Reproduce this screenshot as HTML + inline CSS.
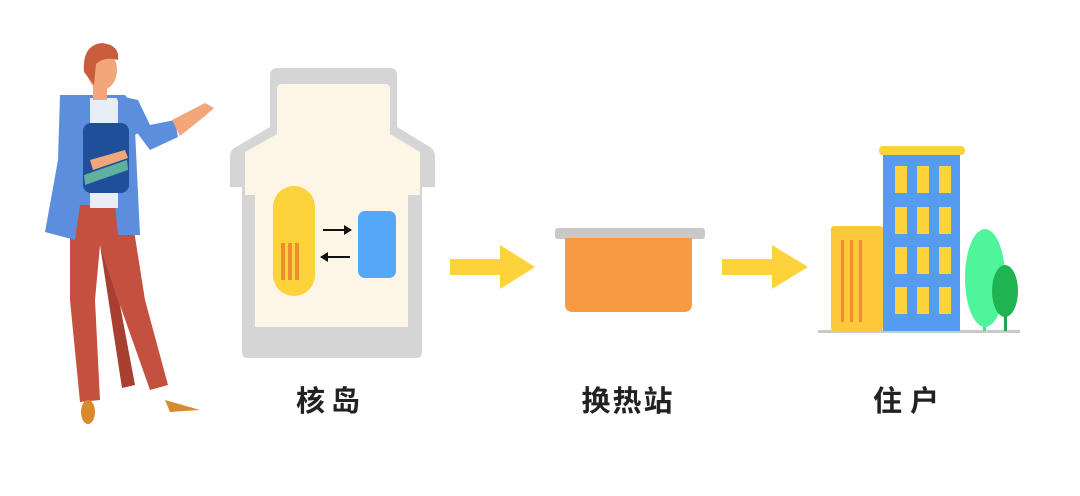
<!DOCTYPE html>
<html><head><meta charset="utf-8"><style>
html,body{margin:0;padding:0;background:#fff;}
svg{display:block}
text{font-family:"Liberation Sans","Noto Sans CJK SC",sans-serif;font-weight:bold;fill:#222}
</style></head><body>
<svg width="1080" height="496" viewBox="0 0 1080 496" xmlns="http://www.w3.org/2000/svg">
<rect width="1080" height="496" fill="#fff"/>
<!-- person -->
<g>
<path d="M70 205 L130 205 L145 300 L168 385 L150 390 L120 305 L100 245 L95 300 L100 400 L80 402 L70 300 Z" fill="#c4503f"/>
<path d="M100 245 L120 305 L135 385 L122 388 Z" fill="#a83f30"/>
<ellipse cx="88" cy="412" rx="7" ry="12" fill="#d88a2c"/>
<path d="M165 400 L200 410 L170 412 Z" fill="#d88a2c"/>
<path d="M60 95 L125 95 L150 125 L175 120 L178 137 L150 150 L135 130 L140 235 L118 235 L115 205 L80 205 L75 240 L45 232 L58 160 Z" fill="#5b8fde"/>
<rect x="90" y="98" width="28" height="110" fill="#e8eef8"/>
<path d="M115 95 L138 100 L150 125 L135 135 Z" fill="#5b8fde"/>
<path d="M172 120 L205 103 L214 108 L205 116 L180 136 Z" fill="#f3a67a"/>
<rect x="83" y="123" width="46" height="70" rx="8" fill="#1f4f99"/>
<path d="M84 175 L127 160 L128 170 L85 185 Z" fill="#5fb0a0"/>
<path d="M90 160 L125 150 L128 158 L93 170 Z" fill="#f3a67a"/>
<rect x="93" y="85" width="14" height="15" fill="#f3a67a"/>
<ellipse cx="102" cy="70" rx="15" ry="20" fill="#f3a67a"/>
<path d="M84 72 Q82 45 102 43 Q120 45 118 60 Q105 56 96 64 L94 85 Z" fill="#c85d3e"/>
</g>
<!-- nuclear island -->
<path d="M278 68 L390 68 Q397 68 397 75 L397 127 L430 147 Q435 150 435 157 L435 187 L422 187 L422 352 Q422 358 416 358 L248 358 Q242 358 242 352 L242 187 L230 187 L230 157 Q230 150 236 147 L270 127 L270 75 Q270 68 278 68 Z" fill="#d5d5d5"/>
<path d="M282 84 L385 84 Q390 84 390 89 L390 134 L420 152 L420 195 L408 195 L408 327 L255 327 L255 195 L245 195 L245 152 L277 134 L277 89 Q277 84 282 84 Z" fill="#fdf6e6"/>
<rect x="273" y="186" width="42" height="110" rx="21" fill="#fdd23a"/>
<rect x="281" y="243" width="4" height="37" fill="#f28a2e"/>
<rect x="288" y="243" width="4" height="37" fill="#f28a2e"/>
<rect x="295" y="243" width="4" height="37" fill="#f28a2e"/>
<rect x="358" y="211" width="38" height="67" rx="7" fill="#55a8f8"/>
<line x1="323" y1="230" x2="346" y2="230" stroke="#111" stroke-width="2"/>
<path d="M352 230 L344 225 L344 235 Z" fill="#111"/>
<line x1="327" y1="257" x2="350" y2="257" stroke="#111" stroke-width="2"/>
<path d="M320 257 L328 252 L328 262 Z" fill="#111"/>
<!-- arrows -->
<path d="M450 259 L500 259 L500 245 L535 267 L500 289 L500 275 L450 275 Z" fill="#fdd23a"/>
<path d="M722 259 L772 259 L772 245 L808 267 L772 289 L772 275 L722 275 Z" fill="#fdd23a"/>
<!-- heat station -->
<rect x="555" y="228" width="150" height="11" rx="3" fill="#c9c9c9"/>
<path d="M565 238 L692 238 L692 304 Q692 312 684 312 L573 312 Q565 312 565 304 Z" fill="#f89a42"/>
<!-- residence -->
<rect x="818" y="330" width="202" height="3" fill="#c9c9c9"/>
<rect x="883" y="153" width="77" height="178" fill="#559cf0"/>
<rect x="879" y="146" width="86" height="9" rx="4" fill="#fdd23a"/>
<g fill="#fdd23a">
<rect x="895" y="166" width="12" height="27"/><rect x="917" y="166" width="12" height="27"/><rect x="939" y="166" width="12" height="27"/>
<rect x="895" y="207" width="12" height="27"/><rect x="917" y="207" width="12" height="27"/><rect x="939" y="207" width="12" height="27"/>
<rect x="895" y="247" width="12" height="27"/><rect x="917" y="247" width="12" height="27"/><rect x="939" y="247" width="12" height="27"/>
<rect x="895" y="287" width="12" height="27"/><rect x="917" y="287" width="12" height="27"/><rect x="939" y="287" width="12" height="27"/>
</g>
<rect x="831" y="226" width="52" height="105" rx="3" fill="#fdc93a"/>
<rect x="841" y="240" width="3" height="82" fill="#f28a2e"/>
<rect x="850" y="240" width="3" height="82" fill="#f28a2e"/>
<rect x="859" y="240" width="3" height="82" fill="#f28a2e"/>
<rect x="983" y="290" width="3" height="41" fill="#4ddc8e"/>
<ellipse cx="985" cy="278" rx="20" ry="49" fill="#4ef59a"/>
<rect x="1004" y="300" width="3" height="31" fill="#1aa84a"/>
<ellipse cx="1005" cy="291" rx="13" ry="26" fill="#1eb452"/>
<!-- labels -->
<text x="331" y="411" font-size="29" text-anchor="middle" letter-spacing="6">核岛</text>
<text x="628" y="411" font-size="29" text-anchor="middle" letter-spacing="2">换热站</text>
<text x="910" y="411" font-size="29" text-anchor="middle" letter-spacing="8">住户</text>
</svg>
</body></html>
